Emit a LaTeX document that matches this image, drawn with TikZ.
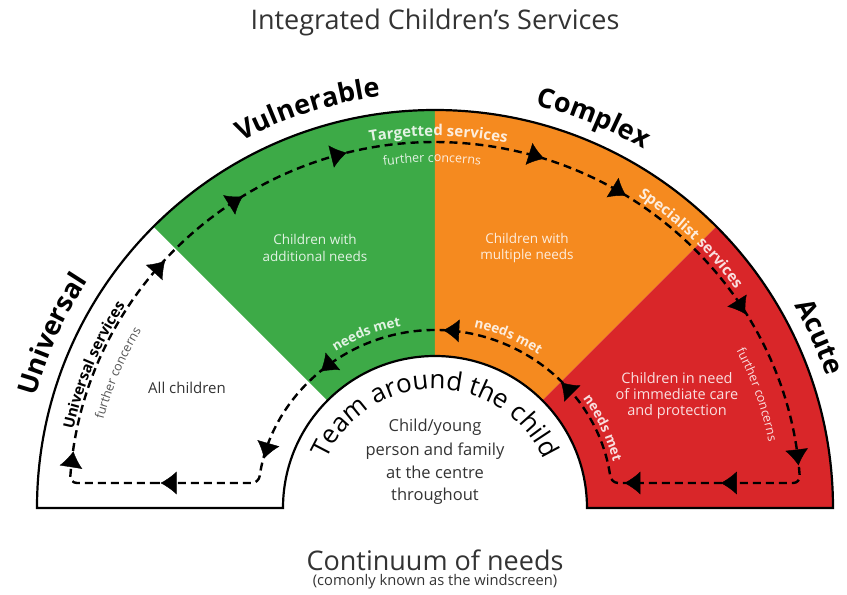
\documentclass[tikz,border=0pt]{standalone}
\usepackage{fontspec}
\setmainfont{Open Sans}
\usetikzlibrary{arrows.meta,decorations.text,decorations.markings}
\definecolor{cgreen}{HTML}{3DAA47}
\definecolor{corange}{HTML}{F58A1F}
\definecolor{cred}{HTML}{D92629}
\definecolor{cgray}{HTML}{333333}
\definecolor{lgray}{HTML}{555555}
\newcommand\fsz[1]{\fontsize{#1}{#1}\selectfont}
\newcommand\arctext[5]{%
  \path[decorate,decoration={text along path,text align=center,text={|#4|#5}}]
    ({#2+#3}:#1) arc[start angle={#2+#3},end angle={#2-#3},radius=#1];}
\tikzset{
  border/.style={line width=2.2pt,black},
  loopline/.style={line width=2.4pt,dash pattern=on 8pt off 5pt,black},
  tipmark/.style={decorate,decoration={markings,#1}},
  sectext/.style={align=center,font=\fsz{13.5}},
}
\newcommand\tp{\arrow{Latex[length=16pt,width=23pt]}}
\begin{document}
\begin{tikzpicture}[x=1pt,y=1pt]
\useasboundingbox (-435,-87) rectangle (412,508);
% sectors
\fill[cgreen] (135:152) -- (135:398) arc[start angle=135,end angle=90,radius=398] -- (90:152) arc[start angle=90,end angle=135,radius=152] -- cycle;
\fill[corange] (90:152) -- (90:398) arc[start angle=90,end angle=45,radius=398] -- (45:152) arc[start angle=45,end angle=90,radius=152] -- cycle;
\fill[cred] (45:152) -- (45:398) arc[start angle=45,end angle=0,radius=398] -- (0:152) arc[start angle=0,end angle=45,radius=152] -- cycle;
% outline
\draw[border] (-398,0) arc[start angle=180,end angle=0,radius=398] -- (152,0) arc[start angle=0,end angle=180,radius=152] -- cycle;
% dashed loop
\draw[loopline,rounded corners=7pt] (-270,25) -- (-365.1,25) arc[start angle=176.08,end angle=3.92,radius=366] -- (176.2,25) arc[start angle=8.07,end angle=171.93,radius=178] -- cycle;
% arrow tips
\path[tipmark={mark=at position 0.029 with {\tp},mark=at position 0.224 with {\tp},mark=at position 0.316 with {\tp},mark=at position 0.419 with {\tp},mark=at position 0.601 with {\tp},mark=at position 0.683 with {\tp},mark=at position 0.837 with {\tp},mark=at position 0.984 with {\tp}}]
  (176.08:366) arc[start angle=176.08,end angle=3.92,radius=366];
\path[tipmark={mark=at position 0.225 with {\tp},mark=at position 0.484 with {\tp},mark=at position 0.744 with {\tp},mark=at position 0.951 with {\tp}}]
  (8.07:178) arc[start angle=8.07,end angle=171.93,radius=178];
\path[tipmark={mark=at position 0.52 with {\tp}}] (-176.2,25) -- (-365.1,25);
\path[tipmark={mark=at position 0.42 with {\tp},mark=at position 0.93 with {\tp}}] (365.1,25) -- (176.2,25);
% big labels
\arctext{415}{155.6}{25}{\fsz{27}\bfseries}{Universal}
\arctext{415}{107.7}{25}{\fsz{27}\bfseries}{Vulnerable}
\arctext{415}{67.9}{25}{\fsz{27}\bfseries}{Complex}
\arctext{413}{24}{25}{\fsz{27}\bfseries}{Acute}
% service labels
\begin{scope}[opacity=0.85]
\arctext{372}{89.5}{22}{\fsz{15}\bfseries\color{white}}{Targetted services}
\arctext{346}{90.5}{20}{\fsz{12.5}\color{white}}{further concerns}
\arctext{372}{46.5}{22}{\fsz{15}\bfseries\color{white}}{Specialist services}
\arctext{340}{19.4}{20}{\fsz{12.5}\color{white}}{further concerns}
\arctext{185}{111.5}{25}{\fsz{13.5}\bfseries\color{white}}{needs met}
\arctext{185}{66.9}{25}{\fsz{13.5}\bfseries\color{white}}{needs met}
\arctext{184}{25.5}{25}{\fsz{13.5}\bfseries\color{white}}{needs met}
\end{scope}
\arctext{370}{157.3}{22}{\fsz{15}\bfseries}{Universal services}
\arctext{343}{157}{20}{\fsz{12.5}\color{lgray}}{further concerns}
\arctext{119}{90}{75}{\fsz{26}}{Team around the child}
% sector texts
\node[sectext,text=cgray,font=\fsz{15}] (all) at (-248,120) {All children};
\node[sectext,text=white,opacity=0.85] (addn) at (-120,260) {Children with\\[3pt]additional needs};
\node[sectext,text=white,opacity=0.85] (mult) at (92,260) {Children with\\[3pt]multiple needs};
\node[sectext,text=white,opacity=0.85,font=\fsz{14.5}] (acut) at (242,112) {Children in need\\[1.5pt]of immediate care\\[1.5pt]and protection};
\node[align=center,font=\fsz{16.5},text=cgray,inner sep=0pt] (centre) at (0,46) {Child/young\\[6pt]person and family\\[6pt]at the centre\\[6pt]throughout};
% titles
\node[font=\fsz{27},text=cgray] (title) at (0,486) {Integrated Children’s Services};
\node[font=\fsz{27},text=cgray] (cont) at (0,-52) {Continuum of needs};
\node[font=\fsz{14.7},text=cgray] (cont2) at (0,-74) {(comonly known as the windscreen)};
\end{tikzpicture}
\end{document}
